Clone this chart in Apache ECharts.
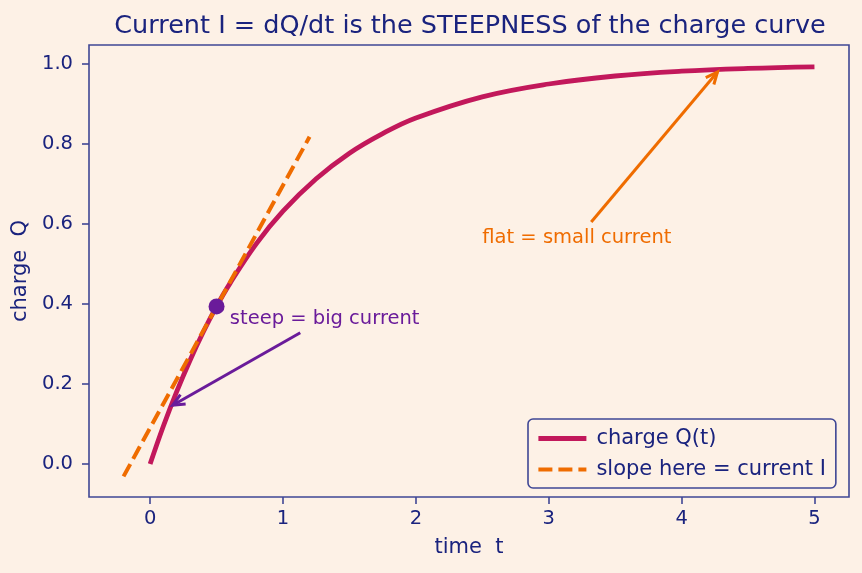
<!DOCTYPE html>
<html>
<head>
<meta charset="utf-8">
<script src="https://cdn.jsdelivr.net/npm/echarts@6/dist/echarts.min.js"></script>
<style>
  html, body { margin: 0; padding: 0; background: #fdf1e6; }
  #main { width: 862px; height: 573px; }
</style>
</head>
<body>
<div id="main"></div>
<script>
// values
var timeT = [0, 0.1, 0.2, 0.3, 0.4, 0.5, 0.6, 0.8, 1.0, 1.25, 1.5, 1.75, 2.0, 2.5, 3.0, 3.5, 4.0, 4.5, 5.0];
var chargeQ = [0, 0.095, 0.181, 0.259, 0.33, 0.394, 0.451, 0.551, 0.632, 0.713, 0.777, 0.826, 0.865, 0.918, 0.95, 0.97, 0.982, 0.989, 0.993];
var slopeT = [-0.2, 1.2];
var slopeQ = [-0.031, 0.818];
var pointT = [0.5];
var pointQ = [0.394];
var xTicks = [0, 1, 2, 3, 4, 5];
var yTicks = [0, 0.2, 0.4, 0.6, 0.8, 1.0];

var navy = '#1a237e';
var frame = '#3f4795';
var crimson = '#c2185b';
var orange = '#ef6c00';
var purple = '#6a1b9a';
var font = 'DejaVu Sans';

function pairs(xs, ys) {
    return xs.map(function (x, i) { return [x, ys[i]]; });
}

var chart = echarts.init(document.getElementById('main'), null, { renderer: 'canvas' });

var option = {
    backgroundColor: '#fdf1e6',
    animation: false,
    textStyle: { fontFamily: font },
    title: {
        text: 'Current I = dQ/dt is the STEEPNESS of the charge curve',
        left: 465,
        textAlign: 'center',
        top: 8,
        textStyle: { color: navy, fontSize: 25.5, fontWeight: 'normal', fontFamily: font }
    },
    grid: {
        left: 89, right: 13, top: 45, bottom: 76,
        show: true, borderColor: frame, borderWidth: 1.6, backgroundColor: 'transparent'
    },
    legend: {
        left: 528, top: 419,
        orient: 'vertical',
        itemWidth: 48, itemHeight: 14, itemGap: 10,
        padding: [9, 10, 8, 8],
        borderColor: frame, borderWidth: 1.6, borderRadius: 5,
        backgroundColor: '#fdf1e6',
        itemStyle: { opacity: 0 },
        textStyle: { color: navy, fontSize: 21, fontFamily: font, padding: [0, 0, 0, 5] },
        data: [
            { name: 'charge Q(t)', lineStyle: { width: 4.8 } },
            { name: 'slope here = current I', lineStyle: { width: 4, type: [14, 6] } }
        ]
    },
    xAxis: {
        type: 'value',
        min: -0.46, max: 5.26,
        name: 'time  t',
        nameLocation: 'middle', nameGap: 40,
        nameTextStyle: { color: navy, fontSize: 21, fontFamily: font },
        axisLine: { show: false, onZero: false },
        axisTick: { show: true, customValues: xTicks, length: 7, lineStyle: { color: frame, width: 1.6 } },
        axisLabel: { customValues: xTicks, color: navy, fontSize: 19.5, fontFamily: font, margin: 12 },
        splitLine: { show: false }
    },
    yAxis: {
        type: 'value',
        min: -0.0825, max: 1.0475,
        name: 'charge  Q',
        nameLocation: 'middle', nameGap: 56,
        nameTextStyle: { color: navy, fontSize: 21, fontFamily: font },
        axisLine: { show: false, onZero: false },
        axisTick: { show: true, customValues: yTicks, length: 7, lineStyle: { color: frame, width: 1.6 } },
        axisLabel: {
            customValues: yTicks, color: navy, fontSize: 19.5, fontFamily: font, margin: 16,
            formatter: function (v) { return v.toFixed(1); }
        },
        splitLine: { show: false }
    },
    series: [
        {
            name: 'charge Q(t)',
            type: 'line',
            smooth: 0.4,
            symbol: 'none',
            data: pairs(timeT, chargeQ),
            lineStyle: { color: crimson, width: 4.8 },
            itemStyle: { color: crimson },
            z: 2
        },
        {
            name: 'slope here = current I',
            type: 'line',
            symbol: 'none',
            data: pairs(slopeT, slopeQ),
            lineStyle: { color: orange, width: 4, type: [14, 6] },
            itemStyle: { color: orange },
            z: 3
        },
        {
            name: 'point',
            type: 'scatter',
            symbolSize: 16,
            data: pairs(pointT, pointQ),
            itemStyle: { color: purple, opacity: 1 },
            z: 5
        }
    ]
};

chart.setOption(option);

function px(p) { return chart.convertToPixel({ gridIndex: 0 }, p); }

function arrow(from, to, color) {
    var a = px(from), b = px(to);
    var ang = Math.atan2(b[1] - a[1], b[0] - a[0]);
    var L = 13, w = 0.42;
    var h1 = [b[0] - L * Math.cos(ang - w), b[1] - L * Math.sin(ang - w)];
    var h2 = [b[0] - L * Math.cos(ang + w), b[1] - L * Math.sin(ang + w)];
    return [
        { type: 'line', shape: { x1: a[0], y1: a[1], x2: b[0], y2: b[1] }, style: { stroke: color, lineWidth: 3 }, z: 10 },
        { type: 'polyline', shape: { points: [h1, b, h2] }, style: { stroke: color, lineWidth: 3, fill: null }, z: 10 }
    ];
}

function label(p, text, color) {
    var q = px(p);
    return {
        type: 'text', x: q[0], y: q[1], z: 10,
        style: { text: text, fill: color, fontSize: 19.5, fontFamily: font, verticalAlign: 'middle', align: 'left' }
    };
}

var g = [].concat(
    arrow([1.13, 0.328], [0.17, 0.147], purple),
    arrow([3.32, 0.605], [4.27, 0.98], orange),
    [label([0.6, 0.362], 'steep = big current', purple),
     label([2.5, 0.565], 'flat = small current', orange)]
);
chart.setOption({ graphic: g });
</script>
</body>
</html>
